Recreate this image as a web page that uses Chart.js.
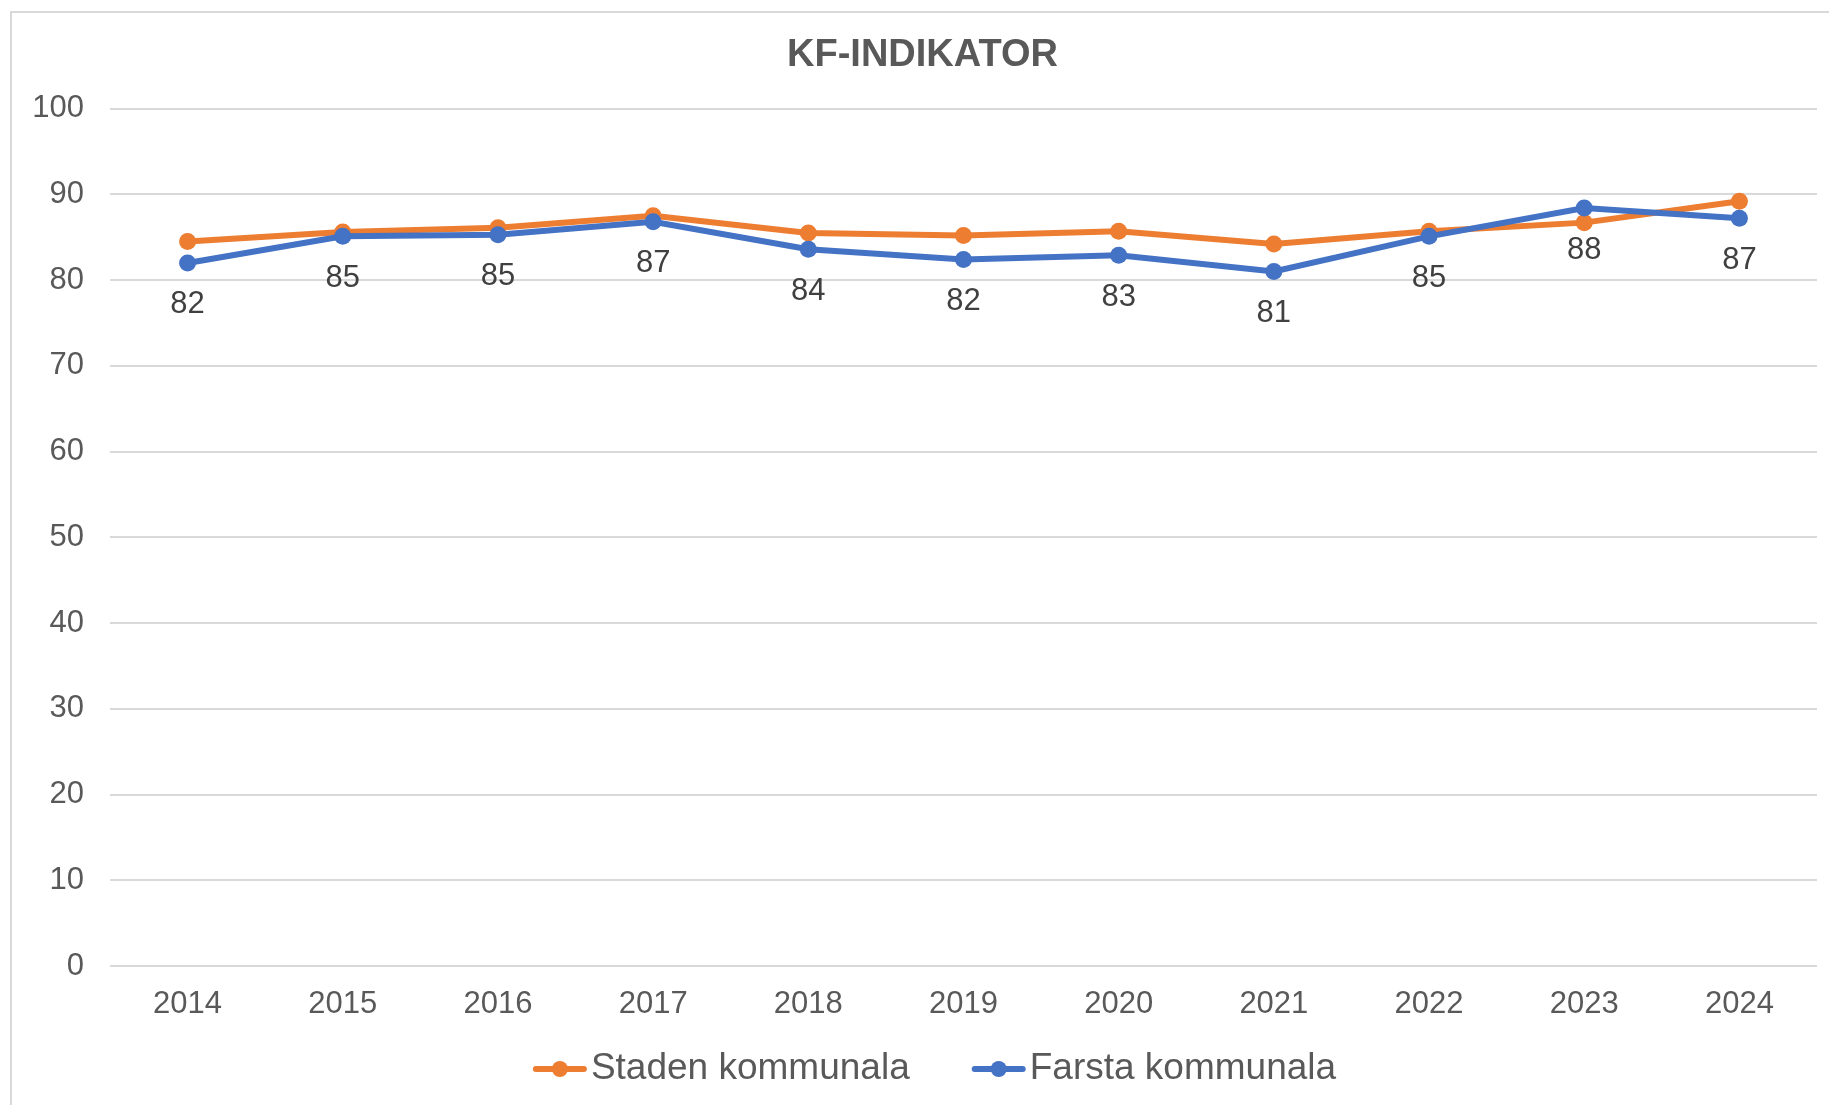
<!DOCTYPE html>
<html>
<head>
<meta charset="utf-8">
<script src="https://cdn.jsdelivr.net/npm/chart.js@4.4.1/dist/chart.umd.min.js"></script>
<style>
  html, body { margin: 0; padding: 0; background: #fff; }
  .wrap { position: absolute; left: 0; top: 0; width: 1829px; height: 1105px; }
  .frame { position: absolute; left: 10px; top: 11px; width: 1840px; height: 1120px; border: 2px solid #d9d9d9; pointer-events: none; }
</style>
</head>
<body>
<div class="wrap"><canvas id="kfChart" width="1829" height="1105"></canvas></div>
<div class="frame"></div>
<script>
// data
const years = ['2014', '2015', '2016', '2017', '2018', '2019', '2020', '2021', '2022', '2023', '2024'];
const staden = [84.5, 85.6, 86.1, 87.5, 85.5, 85.2, 85.7, 84.2, 85.7, 86.7, 89.2];
const farsta = [82.0, 85.1, 85.3, 86.8, 83.6, 82.4, 82.9, 81.0, 85.1, 88.4, 87.2];
const yTicks = [0, 10, 20, 30, 40, 50, 60, 70, 80, 90, 100];

const ORANGE = '#ED7D31';
const BLUE = '#4472C4';
const FONT = "'Liberation Sans', Arial, sans-serif";

// value labels under the Farsta points
const valueLabels = {
  id: 'valueLabels',
  afterDatasetsDraw(chart) {
    const ctx = chart.ctx;
    const meta = chart.getDatasetMeta(1);
    ctx.save();
    ctx.font = '31px ' + FONT;
    ctx.fillStyle = '#404040';
    ctx.textAlign = 'center';
    ctx.textBaseline = 'middle';
    meta.data.forEach((pt, i) => {
      ctx.fillText(Math.round(farsta[i]), pt.x, pt.y + 42);
    });
    ctx.restore();
  }
};

// Excel-style legend: line with a dot, text right next to it
const lineLegend = {
  id: 'lineLegend',
  afterDraw(chart) {
    const ctx = chart.ctx;
    const area = chart.chartArea;
    const markW = 54, markGap = 4, itemGap = 62;
    ctx.save();
    ctx.font = '37px ' + FONT;
    const items = chart.data.datasets.map(ds => ({
      ds, w: markW + markGap + ctx.measureText(ds.label).width
    }));
    const total = items.reduce((s, it) => s + it.w, 0) + itemGap * (items.length - 1);
    let x = (area.left + area.right) / 2 - 29 - total / 2;
    const y = area.bottom + 103;
    items.forEach(it => {
      const c = it.ds.borderColor;
      ctx.strokeStyle = c;
      ctx.lineWidth = 6;
      ctx.lineCap = 'round';
      ctx.beginPath(); ctx.moveTo(x + 3, y); ctx.lineTo(x + markW - 3, y); ctx.stroke();
      ctx.fillStyle = c;
      ctx.beginPath(); ctx.arc(x + markW / 2, y, 8, 0, Math.PI * 2); ctx.fill();
      ctx.fillStyle = '#595959';
      ctx.textAlign = 'left';
      ctx.textBaseline = 'middle';
      ctx.fillText(it.ds.label, x + markW + markGap, y);
      x += it.w + itemGap;
    });
    ctx.restore();
  }
};

const ctx = document.getElementById('kfChart');
new Chart(ctx, {
  type: 'line',
  data: {
    labels: years,
    datasets: [
      {
        label: 'Staden kommunala',
        data: staden,
        borderColor: ORANGE,
        backgroundColor: ORANGE,
        borderWidth: 6,
        pointRadius: 8.5,
        pointHoverRadius: 8.5,
        pointBorderWidth: 0,
        tension: 0,
        order: 1,
      },
      {
        label: 'Farsta kommunala',
        data: farsta,
        borderColor: BLUE,
        backgroundColor: BLUE,
        borderWidth: 6,
        pointRadius: 8.5,
        pointHoverRadius: 8.5,
        pointBorderWidth: 0,
        tension: 0,
        order: 0,
      },
    ],
  },
  options: {
    responsive: false,
    animation: false,
    layout: { padding: { left: 28, right: 12, top: 0, bottom: 79 } },
    scales: {
      x: {
        offset: true,
        afterFit(scale) { scale.height = 60; },
        grid: { display: false },
        border: { display: false },
        ticks: { color: '#595959', font: { family: FONT, size: 31 }, padding: 12, maxRotation: 0 },
      },
      y: {
        min: 0,
        max: 100,
        afterBuildTicks(scale) {
          scale.ticks = yTicks.map(v => ({ value: v }));
        },
        afterFit(scale) { scale.width = 82; },
        grid: { color: '#d9d9d9', lineWidth: 2, drawTicks: false },
        border: { display: false },
        ticks: { color: '#595959', font: { family: FONT, size: 31 }, padding: 26 },
      },
    },
    plugins: {
      title: {
        display: true,
        text: 'KF-INDIKATOR',
        color: '#595959',
        font: { family: FONT, size: 38, weight: 'bold' },
        padding: { top: 33, bottom: 30 },
      },
      legend: { display: false },
      tooltip: { enabled: false },
    },
  },
  plugins: [valueLabels, lineLegend],
});
</script>
</body>
</html>
